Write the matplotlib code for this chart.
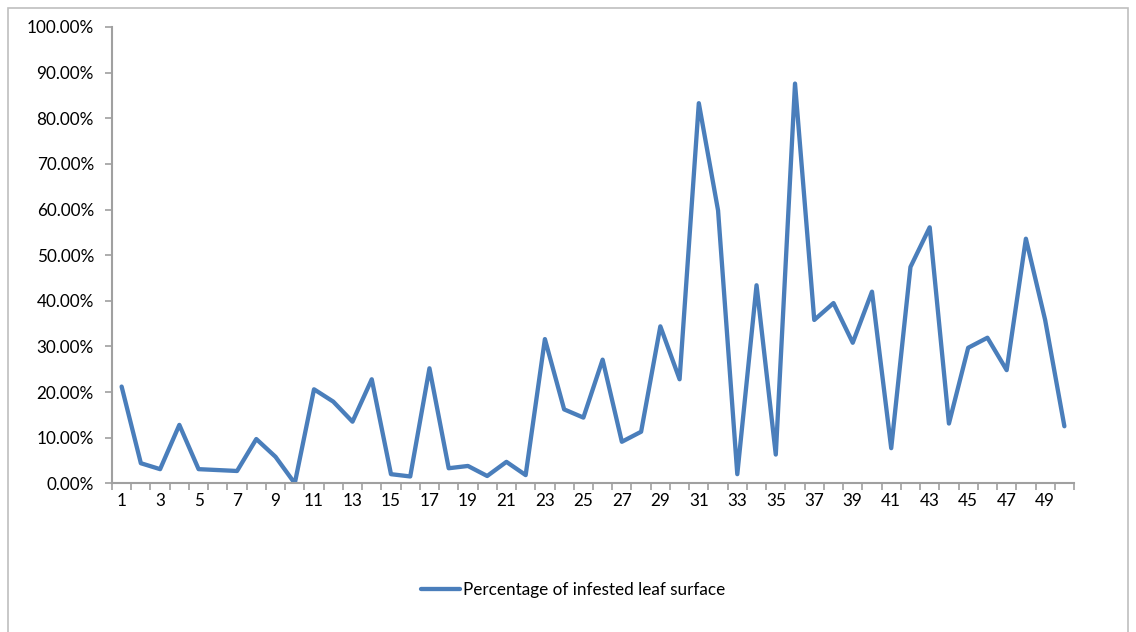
import matplotlib
matplotlib.use("Agg")
import matplotlib.pyplot as plt
from matplotlib.ticker import FixedLocator, FuncFormatter
from matplotlib.patches import Rectangle

plt.rcParams['font.family'] = ['Lato', 'DejaVu Sans']

samples = list(range(1, 51))
infested = [21.2, 4.4, 3.1, 12.8, 3.1, 2.9, 2.7, 9.7, 5.8, 0.0,
            20.6, 17.9, 13.5, 22.8, 2.0, 1.5, 25.2, 3.3, 3.8, 1.6,
            4.7, 1.8, 31.6, 16.2, 14.4, 27.1, 9.1, 11.3, 34.4, 22.8,
            83.3, 59.8, 2.0, 43.4, 6.3, 87.6, 35.8, 39.5, 30.8, 42.0,
            7.7, 47.4, 56.1, 13.1, 29.7, 31.9, 24.8, 53.6, 35.8, 12.5]
series_name = "Percentage of infested leaf surface"
yticks = [0, 10, 20, 30, 40, 50, 60, 70, 80, 90, 100]
xlabels = list(range(1, 50, 2))

W, H = 1136, 632
fig = plt.figure(figsize=(W / 100, H / 100), dpi=100)
fig.patch.set_facecolor('white')
fig.patches.append(Rectangle((7.5 / W, -0.05), (1128 - 7.5) / W, 1.05 - 7.5 / H,
                             transform=fig.transFigure, fill=False,
                             edgecolor='#BFBFBF', linewidth=1.2))

ax = fig.add_axes([112 / W, 1 - 483.3 / H, (1074 - 112) / W, (483.3 - 27) / H])
line_color = '#4A7EBB'
ax.plot(samples, infested, color=line_color, linewidth=3.1,
        solid_joinstyle='round', solid_capstyle='round', label=series_name)

ax.set_xlim(0.5, 50.5)
ax.set_ylim(0, 100)

axis_color = '#A0A0A0'
for s in ['top', 'right']:
    ax.spines[s].set_visible(False)
for s in ['left', 'bottom']:
    ax.spines[s].set_color(axis_color)
    ax.spines[s].set_linewidth(1.5)

fs = 12.3
ax.yaxis.set_major_locator(FixedLocator(yticks))
ax.yaxis.set_major_formatter(FuncFormatter(lambda v, p: f"{v:.2f}%"))
ax.tick_params(axis='y', which='major', length=5, width=1.2, color=axis_color,
               labelsize=fs, pad=8, labelcolor='black')

ax.xaxis.set_major_locator(FixedLocator([i + 0.5 for i in range(0, 51)]))
ax.xaxis.set_major_formatter(FuncFormatter(lambda v, p: ""))
ax.xaxis.set_minor_locator(FixedLocator(xlabels))
ax.xaxis.set_minor_formatter(FuncFormatter(lambda v, p: f"{int(round(v))}"))
ax.tick_params(axis='x', which='major', length=5, width=1.2, color=axis_color)
ax.tick_params(axis='x', which='minor', length=0, labelsize=fs, pad=7,
               labelcolor='black')

leg = fig.legend(loc='center', bbox_to_anchor=(573 / W, 1 - 590 / H),
                 frameon=False, fontsize=fs, handlelength=2.3,
                 handletextpad=0.2)

fig.savefig("out.png", dpi=100, facecolor='white')
